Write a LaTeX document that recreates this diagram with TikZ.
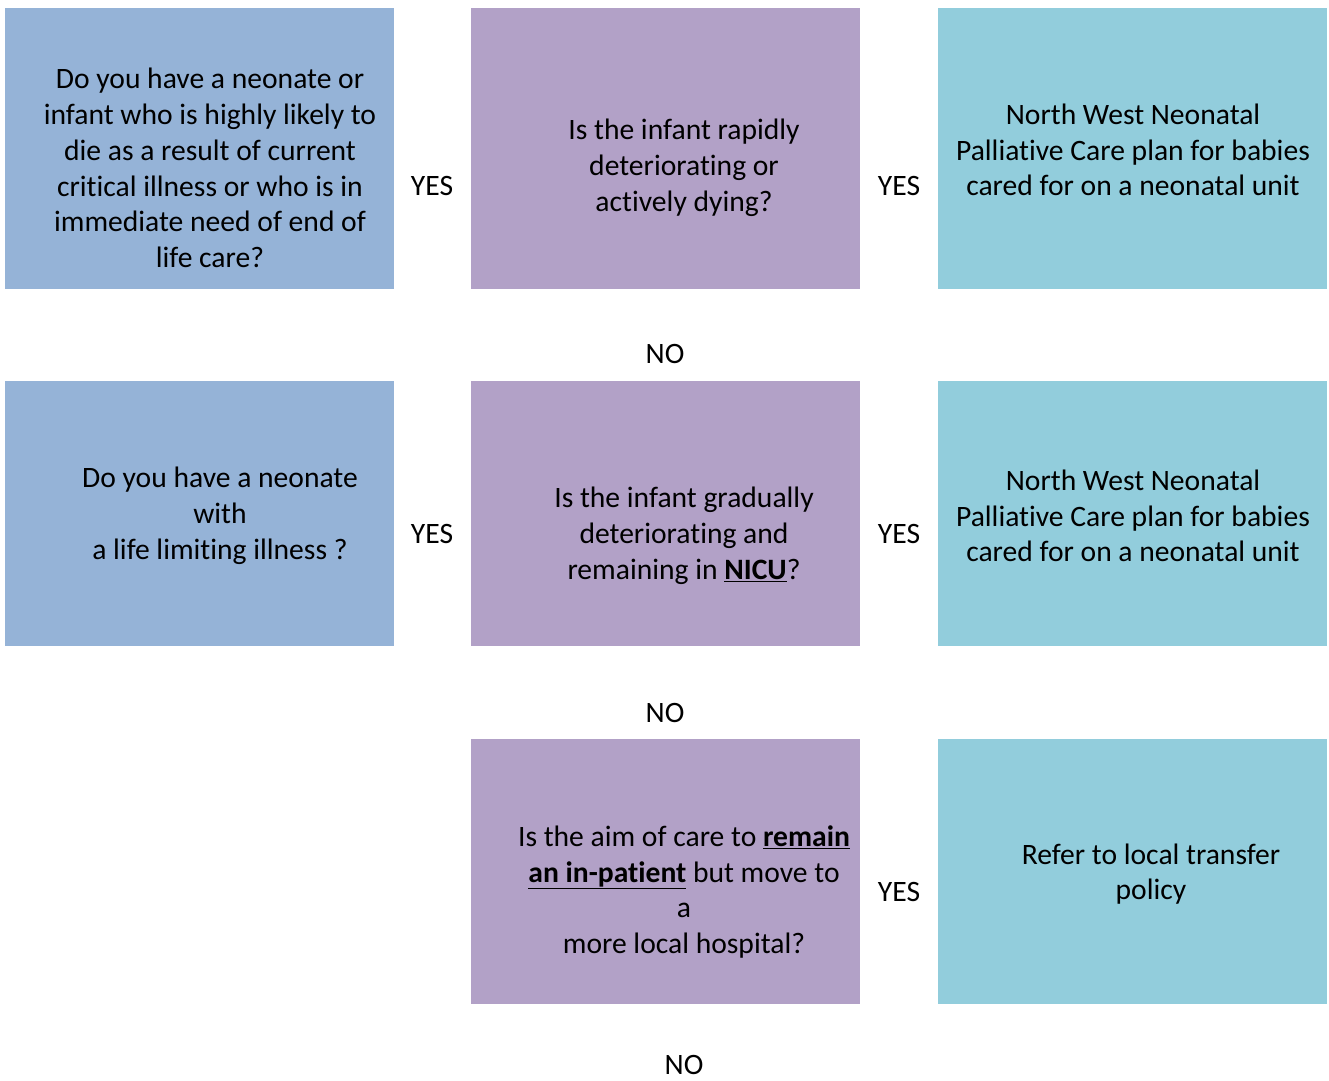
\documentclass[tikz,border=0pt]{standalone}
\usepackage{fontspec}
\setmainfont{Carlito}[Ligatures={NoCommon}]
\definecolor{qblue}{RGB}{149,179,215}
\definecolor{qpurple}{RGB}{178,161,199}
\definecolor{qteal}{RGB}{146,205,220}
\tikzset{
  box/.style={fill=#1, draw=none, inner sep=0pt, anchor=north west,
    minimum width=389pt, minimum height=281pt},
  qtext/.style={align=center, inner sep=0pt, font=\fontsize{29.6}{35.8}\selectfont},
  answer/.style={inner sep=0pt, font=\fontsize{29.6}{35.8}\selectfont}
}
\begin{document}
\begin{tikzpicture}[x=1pt,y=-1pt]
  \useasboundingbox (0,0) rectangle (1329,1080);
  % row 1
  \node[box=qblue] (q1) at (5,8) {};
  \node[box=qpurple] (q2) at (471,8) {};
  \node[box=qteal] (r1) at (938,8) {};
  % row 2
  \node[box=qblue, minimum height=265pt] (q3) at (5,381) {};
  \node[box=qpurple, minimum height=265pt] (q4) at (471,381) {};
  \node[box=qteal, minimum height=265pt] (r2) at (938,381) {};
  % row 3
  \node[box=qpurple, minimum height=265pt] (q5) at (471,739) {};
  \node[box=qteal, minimum height=265pt] (r3) at (938,739) {};
  % texts
  \node[qtext] (t1) at (210,168) {Do you have a neonate or\\infant who is highly likely to\\die as a result of current\\critical illness or who is in\\immediate need of end of\\life care?};
  \node[qtext] (t2) at (684,168) {Is the infant rapidly\\deteriorating or\\actively dying?};
  \node[qtext] (t3) at (1133,150) {North West Neonatal\\Palliative Care plan for babies\\cared for on a neonatal unit};
  \node[qtext] (t4) at (220,516) {Do you have a neonate\\with\\a life limiting illness ?};
  \node[qtext] (t5) at (684,536) {Is the infant gradually\\deteriorating and\\remaining in \underline{\textbf{NICU}}?};
  \node[qtext] (t6) at (1133,516) {North West Neonatal\\Palliative Care plan for babies\\cared for on a neonatal unit};
  \node[qtext] (t7) at (684,892) {Is the aim of care to \underline{\textbf{remain}}\\\underline{\textbf{an in-patient}} but move to\\a\\more local hospital?};
  \node[qtext] (t8) at (1151,874) {Refer to local transfer\\policy};
  % answers
  \node[answer] (y1) at (432,186) {YES};
  \node[answer] (y2) at (899,186) {YES};
  \node[answer] (n1) at (665,354) {NO};
  \node[answer] (y3) at (432,534) {YES};
  \node[answer] (y4) at (899,534) {YES};
  \node[answer] (n2) at (665,713) {NO};
  \node[answer] (y5) at (899,892) {YES};
  \node[answer] (n3) at (684,1065) {NO};
\end{tikzpicture}
\end{document}
